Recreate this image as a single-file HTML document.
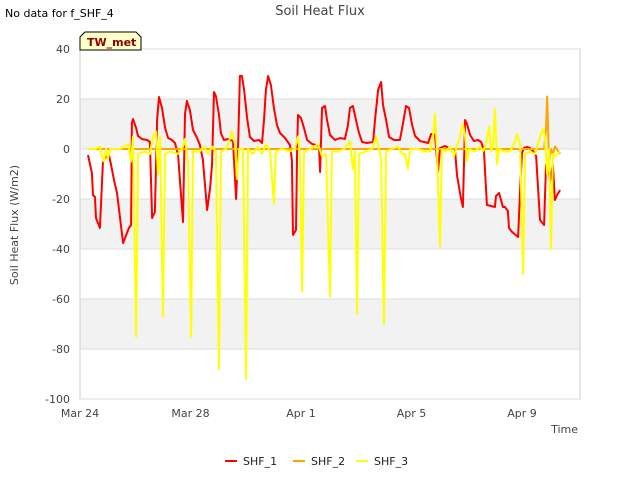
<!DOCTYPE html>
<html><head><meta charset="utf-8"><style>
body{margin:0;background:#fff;font-family:"Liberation Sans","DejaVu Sans",sans-serif;}
svg text{font-family:"DejaVu Sans","Liberation Sans",sans-serif;}
</style></head><body>
<svg id="c" width="640" height="480" viewBox="0 0 640 480">
<rect x="0" y="0" width="640" height="480" fill="#fff"/>
<text x="5" y="17" font-size="11" fill="#000">No data for f_SHF_4</text>
<text x="320" y="15" font-size="13" fill="#444" text-anchor="middle">Soil Heat Flux</text>
<g id="bands"></g>
<rect x="80" y="49" width="500" height="350" fill="none" stroke="#ccc"/>
<g id="yt"></g><g id="xt"></g>
<g id="series"></g>
<text transform="translate(18,225) rotate(-90)" font-size="11" fill="#444" text-anchor="middle">Soil Heat Flux (W/m2)</text>
<text x="578" y="433" font-size="11" fill="#444" text-anchor="end">Time</text>
<g>
<path d="M80,50 L80,37 L85,32 L136,32 L141,37 L141,50 Z" fill="#ffffc8" stroke="#000" stroke-width="1"/>
<text x="87" y="46" font-size="11" font-weight="bold" fill="#8b0000">TW_met</text>
</g>
<g id="legend"></g>
</svg>
<script>
const yTicks=[40,20,0,-20,-40,-60,-80,-100];
const xTickDays=[0,4,8,12,16];
const xTickLabels=["Mar 24","Mar 28","Apr 1","Apr 5","Apr 9"];
const seriesNames=["SHF_1","SHF_2","SHF_3"];
const seriesColors=["#ff0000","#ffa500","#ffff00"];
const shf1Days=[0.29,0.43,0.47,0.54,0.58,0.72,0.83,0.9,1.05,1.12,1.23,1.34,1.56,1.77,1.85,1.88,1.92,2.03,2.1,2.24,2.43,2.53,2.61,2.71,2.79,2.86,2.97,3.08,3.19,3.33,3.44,3.55,3.73,3.8,3.87,3.98,4.09,4.24,4.34,4.45,4.6,4.71,4.78,4.85,4.92,5.03,5.1,5.21,5.36,5.54,5.65,5.72,5.79,5.86,5.94,6.05,6.15,6.3,6.48,6.59,6.66,6.73,6.81,6.91,7.02,7.13,7.24,7.42,7.6,7.67,7.71,7.82,7.86,7.89,8.0,8.11,8.22,8.4,8.65,8.69,8.76,8.87,8.94,9.05,9.23,9.41,9.59,9.7,9.77,9.88,9.99,10.1,10.21,10.39,10.61,10.68,10.79,10.9,10.97,11.08,11.19,11.37,11.58,11.69,11.8,11.91,12.02,12.13,12.31,12.6,12.71,12.85,12.96,13.03,13.21,13.43,13.57,13.65,13.79,13.86,13.94,14.01,14.12,14.26,14.41,14.52,14.62,14.73,14.88,15.02,15.06,15.17,15.24,15.31,15.38,15.49,15.53,15.64,15.86,15.93,16.0,16.07,16.18,16.29,16.4,16.51,16.65,16.8,16.87,16.94,17.01,17.12,17.19,17.27,17.38];
const shf1Vals=[-2.4,-9.6,-18.4,-19.2,-27.6,-31.6,-5.6,-3.6,-2.4,-6,-12.4,-17.6,-37.6,-31.6,-30.4,10.4,12,8.4,5.2,4,3.6,2.8,-27.6,-25.2,11.6,20.8,16.4,8.4,4.4,3.6,2.4,-2.4,-29.2,14,19.2,15.6,7.6,4.4,1.6,-4.4,-24.4,-15.6,-6.4,22.8,21.2,13.6,6.4,3.6,4,3.2,-20,-0.4,29.2,29.2,23.6,12.4,4.8,3.2,3.6,2.4,11.6,23.6,29.2,25.6,16.4,9.6,6.4,4.4,1.6,-4.4,-34.4,-32.4,-0.4,13.6,12.4,8.4,3.6,2,1.2,-9.2,16.4,17.2,11.6,5.6,3.6,4.4,4,9.6,16.4,17.2,11.6,6.4,2.8,2.4,2.8,11.6,23.6,26.8,17.6,11.6,4.8,3.6,3.6,10,17.2,16.4,9.6,5.2,3.2,2.4,6,5.6,-9.2,0.4,1.2,0,0,-10.8,-19.6,-23.2,11.6,10,5.6,3.2,3.6,2.8,-0.4,-22.4,-22.8,-23.2,-18.8,-17.6,-20.4,-23.2,-23.2,-24.8,-31.6,-33.2,-35.2,-16.4,-1.6,0.4,0.8,0.4,-0.8,-2.8,-28.4,-30.4,-6.4,-5.2,-13.2,-6.4,-20.4,-18.4,-16.4];
const shf2Days=[0.29,16.8,16.87,16.91,16.98,17.05,17.12,17.2,17.38];
const shf2Vals=[0,0,8,21,-5,0,-2,1,-2];
const shf3Days=[0.29,0.54,0.72,0.80,0.87,0.94,1.01,1.09,1.45,1.74,1.85,1.92,2.03,2.1,2.35,2.53,2.64,2.75,2.82,2.9,3.0,3.08,3.26,3.55,3.73,3.8,3.91,4.02,4.09,4.34,4.49,4.63,4.78,4.92,5.03,5.1,5.29,5.39,5.5,5.61,5.68,5.76,5.9,6.01,6.08,6.26,6.44,6.59,6.73,6.88,7.02,7.09,7.31,7.6,7.78,7.89,7.96,8.04,8.11,8.33,8.62,8.76,8.91,9.05,9.12,9.34,9.56,9.77,9.88,9.95,10.03,10.1,10.32,10.57,10.72,10.82,10.9,11.0,11.08,11.29,11.51,11.66,11.76,11.87,11.95,12.24,12.49,12.67,12.78,12.85,12.92,13.03,13.1,13.25,13.39,13.54,13.61,13.76,13.86,13.94,14.01,14.08,14.3,14.48,14.59,14.7,14.81,14.88,14.95,15.02,15.1,15.17,15.35,15.57,15.75,15.82,15.93,16.04,16.11,16.29,16.47,16.65,16.76,16.83,16.91,16.98,17.05,17.12,17.19,17.27,17.38];
const shf3Vals=[0,0,1,-3,-5,0,-4,0,0,2,-5,5,-75,-2,-1,-2,5,7,-10,5,-67,-2,-1,-2,1,4,-5,-75,-1,-1,1,-2,1,-1,-88,-1,0,3,7,2,-12,0,0,-92,0,-2,1,-2,2,-1,-22,-1,0,-1,0,5,-2,-57,-1,0,2,-3,-2,-59,-1,-1,0,3,-8,-1,-66,-2,-1,0,5,0,-4,-70,-1,0,1,-2,-2,-8,0,0,-1,-1,5,14,0,-39,0,-1,1,-3,0,5,10,5,-5,0,-1,1,-1,2,9,-1,2,16,-6,0,-1,-1,3,6,2,-50,-2,-1,-2,5,8,5,-10,0,-40,-2,-3,-2,-1];

const NS="http://www.w3.org/2000/svg";
const X0=80,X1=580,Y0=49,Y1=399;
const xs=d=>X0+d*27.625;
const ys=v=>Y0+(40-v)*(Y1-Y0)/140;
function mk(tag,attrs,parent){const e=document.createElementNS(NS,tag);for(const k in attrs)e.setAttribute(k,attrs[k]);parent.appendChild(e);return e;}
const bands=document.getElementById('bands');
for(let i=0;i<yTicks.length-1;i++){
  const r=mk('rect',{x:X0,y:ys(yTicks[i]),width:X1-X0,height:ys(yTicks[i+1])-ys(yTicks[i]),fill:(i%2==1)?'#f2f2f2':'#fff'},bands);
  
  
}
const yt=document.getElementById('yt');
yTicks.forEach(v=>{
  const l=mk('line',{x1:X0,x2:X1,y1:ys(v),y2:ys(v),stroke:'#ddd'},yt);
  
  
  const t=mk('text',{x:X0-10,y:ys(v)+4,'font-size':11,fill:'#444','text-anchor':'end'},yt);
  t.textContent=v;
  
  
});
const xt=document.getElementById('xt');
xTickDays.forEach((d,i)=>{
  const t=mk('text',{x:xs(d),y:Y1+18,'font-size':11,fill:'#444','text-anchor':'middle'},xt);
  t.textContent=xTickLabels[i];
  
  
});
const sg=document.getElementById('series');
const all=[[shf1Days,shf1Vals],[shf2Days,shf2Vals],[shf3Days,shf3Vals]];
all.forEach((s,i)=>{
  const pts=s[0].map((d,j)=>xs(d).toFixed(1)+','+ys(s[1][j]).toFixed(1)).join(' ');
  const p=mk('polyline',{points:pts,fill:'none',stroke:seriesColors[i],'stroke-width':2,'stroke-linejoin':'round'},sg);
  
  
});
const lg=document.getElementById('legend');
const lx=[225,293,356];
seriesNames.forEach((n,i)=>{
  const g=mk('g',{},lg);
  
  
  mk('line',{x1:lx[i],x2:lx[i]+12,y1:461,y2:461,stroke:seriesColors[i],'stroke-width':2},g);
  const t=mk('text',{x:lx[i]+18,y:465,'font-size':11,fill:'#222'},g);
  t.textContent=n;
});
</script>
</body></html>
